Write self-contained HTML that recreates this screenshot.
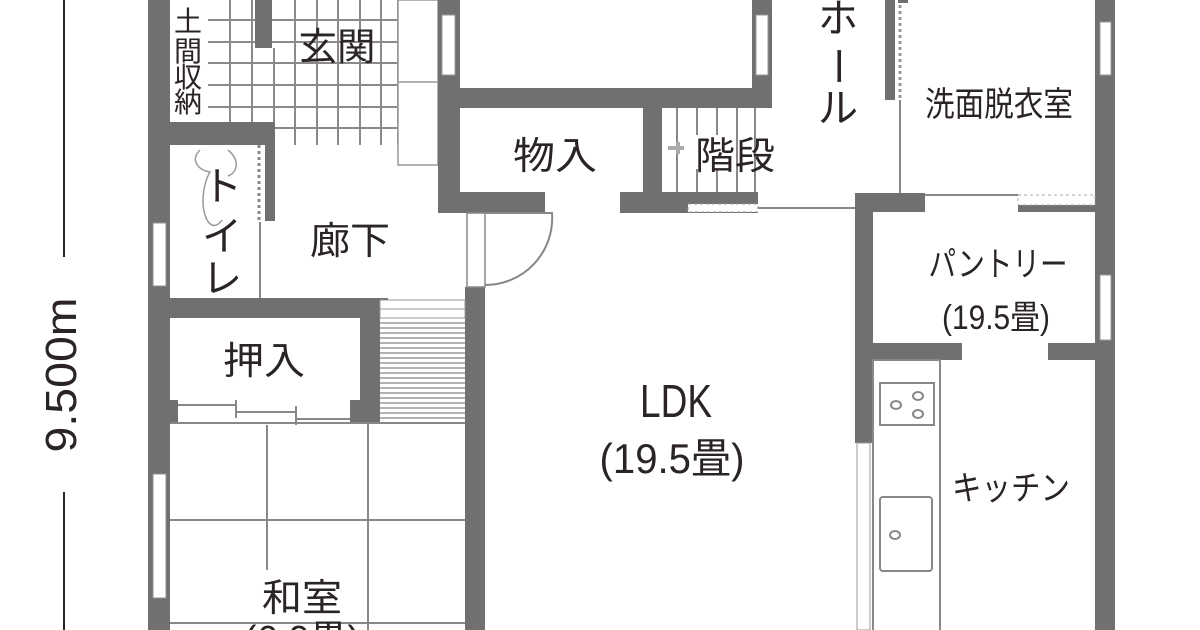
<!DOCTYPE html>
<html><head><meta charset="utf-8"><style>
html,body{margin:0;padding:0;background:#fff;width:1200px;height:630px;overflow:hidden}
svg{display:block}
text{font-family:"Liberation Sans","Noto Sans CJK JP",sans-serif;fill:#2b2424}
</style></head><body>
<svg width="1200" height="630" viewBox="0 0 1200 630" xmlns="http://www.w3.org/2000/svg">
<!-- dimension -->
<line x1="64" y1="0" x2="64" y2="257" stroke="#2b2424" stroke-width="2"/>
<line x1="64" y1="492" x2="64" y2="630" stroke="#2b2424" stroke-width="2"/>
<text transform="translate(76,375) rotate(-90)" font-size="44" text-anchor="middle" textLength="155" lengthAdjust="spacingAndGlyphs">9.500m</text>

<g fill="#707070">
<!-- left outer wall -->
<rect x="148" y="0" width="22" height="630"/>
</g>
<g fill="#fff" stroke="#909090" stroke-width="1">
<rect x="153" y="223" width="13" height="63"/>
<rect x="153" y="474" width="13" height="124"/>
</g>

<!-- genkan tiles -->
<g stroke="#8a8a8a" stroke-width="2">
<line x1="230" y1="0" x2="230" y2="122"/>
<line x1="252" y1="0" x2="252" y2="122"/>
<line x1="295" y1="0" x2="295" y2="145"/>
<line x1="317" y1="0" x2="317" y2="145"/>
<line x1="338" y1="0" x2="338" y2="145"/>
<line x1="360" y1="0" x2="360" y2="145"/>
<line x1="381" y1="0" x2="381" y2="145"/>
<line x1="274" y1="48" x2="274" y2="145"/>
<line x1="170" y1="20" x2="398" y2="20"/>
<line x1="170" y1="42" x2="398" y2="42"/>
<line x1="170" y1="63" x2="398" y2="63"/>
<line x1="170" y1="85" x2="398" y2="85"/>
<line x1="170" y1="107" x2="398" y2="107"/>
<line x1="275" y1="128" x2="398" y2="128"/>
</g>
<line x1="398" y1="0" x2="398" y2="145" stroke="#8a8a8a" stroke-width="2"/>
<rect x="170" y="0" width="38" height="118" fill="#fff"/>
<g fill="#707070">
<rect x="255" y="0" width="17" height="48"/>
<rect x="148" y="122" width="127" height="23"/>
<rect x="265" y="145" width="10" height="76"/>
</g>
<line x1="259" y1="145" x2="259" y2="222" stroke="#888" stroke-width="3" stroke-dasharray="3,3"/>
<line x1="260" y1="222" x2="260" y2="298" stroke="#888" stroke-width="2"/>
<!-- genkan step -->
<rect x="398" y="0" width="40" height="165" fill="#fff" stroke="#999" stroke-width="1.5"/>
<line x1="398" y1="82" x2="438" y2="82" stroke="#999" stroke-width="1.5"/>

<!-- toilet -->
<path d="M200 150 C190 160 198 170 210 172 C205 180 200 200 205 215 C208 225 215 230 222 220" fill="none" stroke="#999" stroke-width="1.5"/>
<path d="M228 150 C240 160 238 172 228 176" fill="none" stroke="#999" stroke-width="1.5"/>

<!-- central walls -->
<g fill="#707070">
<rect x="438" y="0" width="22" height="213"/>
<rect x="440" y="88" width="332" height="20"/>
<rect x="752" y="0" width="20" height="108"/>
<rect x="440" y="192" width="105" height="21"/>
<rect x="620" y="192" width="138" height="21"/>
<rect x="643" y="108" width="19" height="84"/>
<rect x="465" y="287" width="20" height="343"/>
<rect x="148" y="298" width="240" height="20"/>
<rect x="360" y="298" width="20" height="125"/>
<rect x="148" y="400" width="30" height="23"/>
<rect x="350" y="400" width="30" height="23"/>
</g>
<g fill="#fff" stroke="#999" stroke-width="1">
<rect x="442" y="15" width="13" height="60"/>
<rect x="756" y="15" width="12" height="60"/>
</g>
<!-- stairs top -->
<g stroke="#888" stroke-width="2">
<line x1="677" y1="108" x2="677" y2="192"/>
<line x1="697" y1="108" x2="697" y2="192"/>
<line x1="717" y1="108" x2="717" y2="192"/>
<line x1="737" y1="108" x2="737" y2="192"/>
<line x1="755" y1="108" x2="755" y2="192"/>
</g>
<rect x="678" y="135" width="40" height="34" fill="#fff"/>
<path d="M668 148 L684 148 M678 142 L678 154" stroke="#aaa" stroke-width="4"/>
<rect x="688" y="204" width="70" height="8" fill="#fff" stroke="#999" stroke-width="1" stroke-dasharray="3,3"/>
<line x1="758" y1="208" x2="855" y2="208" stroke="#888" stroke-width="2"/>

<!-- door arc -->
<rect x="467" y="213" width="18" height="74" fill="#fff" stroke="#888" stroke-width="1.5"/>
<path d="M485 213 L552 213 A67 67 0 0 1 485 285" fill="none" stroke="#888" stroke-width="2"/>

<!-- second stairs -->
<rect x="380" y="300" width="85" height="18" fill="#fff" stroke="#999" stroke-width="1"/>
<line x1="380" y1="309" x2="465" y2="309" stroke="#999" stroke-width="1"/>
<g stroke="#999" stroke-width="1.5">
<line x1="380" y1="323" x2="465" y2="323"/><line x1="380" y1="328" x2="465" y2="328"/>
<line x1="380" y1="333" x2="465" y2="333"/><line x1="380" y1="338" x2="465" y2="338"/>
<line x1="380" y1="343" x2="465" y2="343"/><line x1="380" y1="348" x2="465" y2="348"/>
<line x1="380" y1="353" x2="465" y2="353"/><line x1="380" y1="358" x2="465" y2="358"/>
<line x1="380" y1="363" x2="465" y2="363"/><line x1="380" y1="368" x2="465" y2="368"/>
<line x1="380" y1="373" x2="465" y2="373"/><line x1="380" y1="378" x2="465" y2="378"/>
<line x1="380" y1="383" x2="465" y2="383"/><line x1="380" y1="388" x2="465" y2="388"/>
<line x1="380" y1="393" x2="465" y2="393"/><line x1="380" y1="398" x2="465" y2="398"/>
<line x1="380" y1="403" x2="465" y2="403"/><line x1="380" y1="408" x2="465" y2="408"/>
<line x1="380" y1="413" x2="465" y2="413"/><line x1="380" y1="418" x2="465" y2="418"/>
</g>
<!-- sliding door oshiire -->
<g stroke="#888" stroke-width="2" fill="none">
<line x1="178" y1="405" x2="236" y2="405"/>
<line x1="236" y1="412" x2="296" y2="412"/>
<line x1="296" y1="419" x2="350" y2="419"/>
<line x1="236" y1="400" x2="236" y2="418"/>
<line x1="296" y1="406" x2="296" y2="425"/>
</g>
<!-- tatami -->
<g stroke="#888" stroke-width="2">
<line x1="170" y1="423" x2="465" y2="423"/>
<line x1="267" y1="425" x2="267" y2="570"/>
<line x1="368" y1="423" x2="368" y2="630"/>
<line x1="170" y1="520" x2="465" y2="520"/>
<line x1="170" y1="623" x2="465" y2="623"/>
</g>

<!-- right side -->
<g fill="#707070">
<rect x="855" y="193" width="70" height="19"/>
<rect x="855" y="193" width="18" height="250"/>
<rect x="1018" y="205" width="80" height="7"/>
<rect x="885" y="0" width="10" height="100"/>
<rect x="1095" y="0" width="20" height="630"/>
<rect x="855" y="343" width="107" height="17"/>
<rect x="1048" y="343" width="50" height="17"/>
<rect x="898" y="0" width="10" height="3"/>
</g>
<rect x="1018" y="195" width="77" height="10" fill="#fff" stroke="#aaa" stroke-width="1" stroke-dasharray="3,3"/>
<line x1="900" y1="5" x2="900" y2="100" stroke="#999" stroke-width="3" stroke-dasharray="3,3"/>
<line x1="900" y1="100" x2="900" y2="193" stroke="#888" stroke-width="2"/>
<line x1="925" y1="195" x2="1018" y2="195" stroke="#888" stroke-width="2"/>
<g fill="#fff" stroke="#999" stroke-width="1">
<rect x="1100" y="22" width="11" height="53"/>
<rect x="1100" y="275" width="11" height="65"/>
<rect x="857" y="443" width="13" height="187"/>
</g>
<!-- kitchen counter -->
<rect x="873" y="360" width="67" height="275" fill="#fff" stroke="#888" stroke-width="2"/>
<rect x="880" y="383" width="54" height="42" fill="#fff" stroke="#888" stroke-width="2"/>
<ellipse cx="896" cy="405" rx="5" ry="4" fill="none" stroke="#888" stroke-width="2"/>
<ellipse cx="918" cy="396" rx="5" ry="4" fill="none" stroke="#888" stroke-width="2"/>
<ellipse cx="918" cy="414" rx="5" ry="4" fill="none" stroke="#888" stroke-width="2"/>
<rect x="880" y="497" width="52" height="74" rx="3" fill="#fff" stroke="#888" stroke-width="2"/>
<ellipse cx="895" cy="535" rx="5" ry="4" fill="none" stroke="#888" stroke-width="2"/>

<!-- labels -->
<g font-size="38">
<text x="337" y="60" text-anchor="middle" textLength="77" lengthAdjust="spacingAndGlyphs">玄関</text>
<text x="350" y="254" text-anchor="middle" textLength="80" lengthAdjust="spacingAndGlyphs">廊下</text>
<text x="555" y="169" text-anchor="middle" textLength="84" lengthAdjust="spacingAndGlyphs">物入</text>
<text x="735" y="169" text-anchor="middle" textLength="80" lengthAdjust="spacingAndGlyphs">階段</text>
<text x="264" y="374" text-anchor="middle" textLength="82" lengthAdjust="spacingAndGlyphs">押入</text>
<text x="302" y="611" text-anchor="middle" textLength="80" lengthAdjust="spacingAndGlyphs">和室</text>
<text x="302" y="652" text-anchor="middle">(6.0畳)</text>
</g>
<g font-size="34">
<text x="999" y="116" text-anchor="middle" textLength="148" lengthAdjust="spacingAndGlyphs">洗面脱衣室</text>
<text x="998" y="276" text-anchor="middle" textLength="139" lengthAdjust="spacingAndGlyphs">パントリー</text>
<text x="996" y="329" text-anchor="middle" textLength="108" lengthAdjust="spacingAndGlyphs">(19.5畳)</text>
<text x="1011" y="500" text-anchor="middle" textLength="118" lengthAdjust="spacingAndGlyphs">キッチン</text>
</g>
<text x="676" y="417" font-size="46" text-anchor="middle" textLength="72" lengthAdjust="spacingAndGlyphs">LDK</text>
<text x="672" y="473" font-size="42" text-anchor="middle" textLength="145" lengthAdjust="spacingAndGlyphs">(19.5畳)</text>
<!-- vertical labels -->
<g font-size="28" text-anchor="middle">
<text x="188" y="31">土</text><text x="188" y="61">間</text><text x="188" y="87">収</text><text x="188" y="112">納</text>
</g>
<g font-size="40" text-anchor="middle">
<text x="222" y="200">ト</text><text x="222" y="250">イ</text><text x="222" y="292">レ</text>
<text x="838" y="32">ホ</text><text x="838" y="80" transform="rotate(90 838 66)">ー</text><text x="838" y="122">ル</text>
</g>
</svg>
</body></html>
